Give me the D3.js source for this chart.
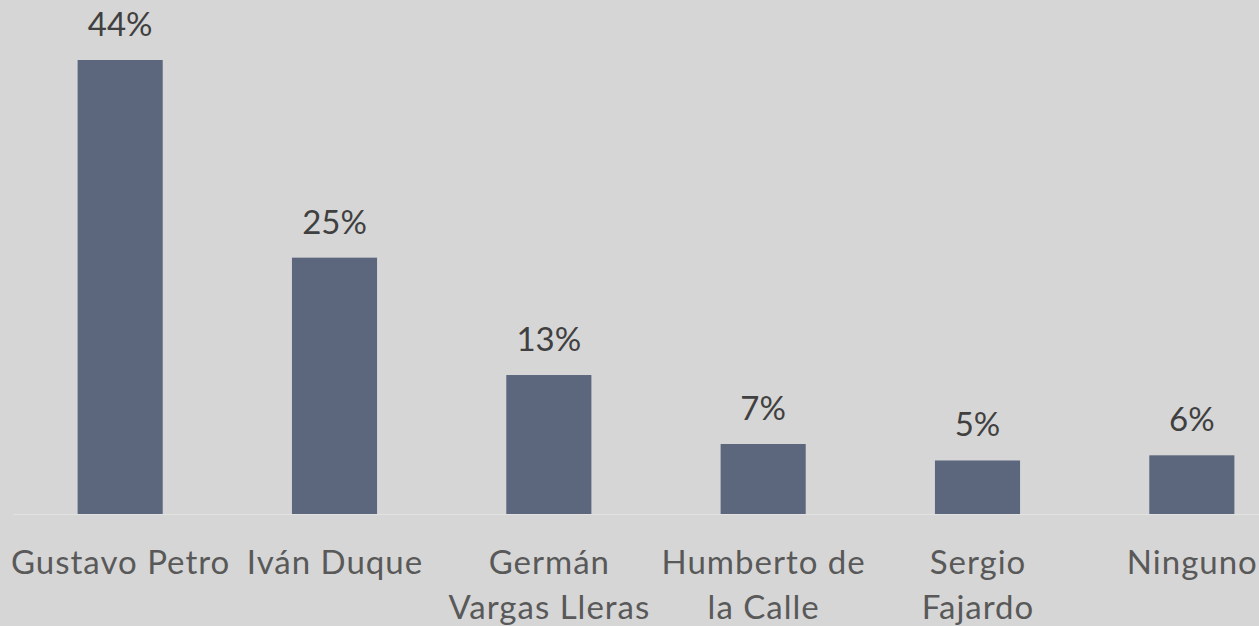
<!DOCTYPE html>
<html><head><meta charset="utf-8">
<script src="https://cdn.jsdelivr.net/npm/d3@7"></script>
<style>html,body{margin:0;padding:0;background:#d6d6d6;overflow:hidden}</style>
</head><body>
<svg id="chart" width="1259" height="626"></svg>
<script>
const categories = ["Gustavo Petro", "Iván Duque", "Germán\nVargas Lleras", "Humberto de\nla Calle", "Sergio\nFajardo", "Ninguno"];
const values = [44.1, 24.9, 13.5, 6.8, 5.2, 5.7];
const valueLabels = ["44%", "25%", "13%", "7%", "5%", "6%"];

const W = 1259, H = 626;
const svg = d3.select("#chart");
svg.append("rect").attr("width", W).attr("height", H).attr("fill", "#d6d6d6");

const x = d3.scaleBand().domain(categories).range([13, 1299]).paddingInner(0.603).paddingOuter(0.3015);
const y = d3.scaleLinear().domain([0, 44.1]).range([514, 60]);
const font = "Lato, 'Open Sans', sans-serif";

svg.append("line").attr("x1", 13).attr("x2", W).attr("y1", y(0) + 0.5).attr("y2", y(0) + 0.5)
  .attr("stroke", "#e2e2e2").attr("stroke-width", 1.2);

svg.selectAll("rect.bar").data(values).join("rect").attr("class", "bar")
  .attr("x", (d, i) => x(categories[i])).attr("width", x.bandwidth())
  .attr("y", d => y(d)).attr("height", d => y(0) - y(d))
  .attr("fill", "#5c677e");

svg.selectAll("text.val").data(values).join("text").attr("class", "val")
  .attr("x", (d, i) => x(categories[i]) + x.bandwidth() / 2)
  .attr("y", d => y(d) - 24)
  .attr("text-anchor", "middle").attr("font-family", font).attr("font-size", 33)
  .attr("fill", "#404040").text((d, i) => valueLabels[i]);

const cat = svg.selectAll("text.cat").data(categories).join("text").attr("class", "cat")
  .attr("text-anchor", "middle").attr("font-family", font).attr("font-size", 33)
  .attr("letter-spacing", 1).attr("fill", "#595959");
cat.each(function(d) {
  const t = d3.select(this);
  const cx = x(d) + x.bandwidth() / 2 + 0.5;
  d.split("\n").forEach((line, j) => {
    t.append("tspan").attr("x", cx).attr("y", 574 + j * 45).text(line);
  });
});
</script>
</body></html>
